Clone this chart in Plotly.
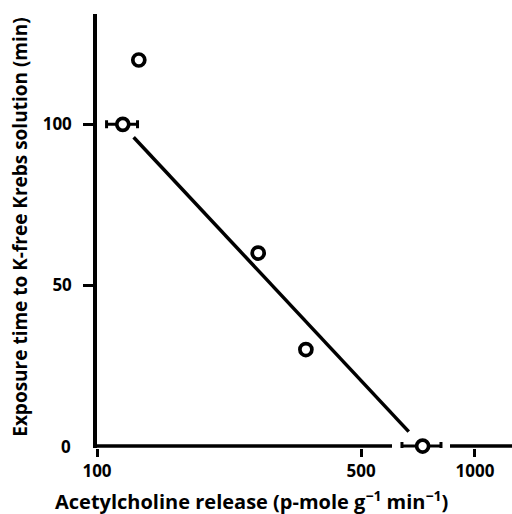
import plotly.graph_objects as go

# ---- data ----
ach_release = [129, 117, 267, 357, 727]          # p-mole g-1 min-1
exposure_time = [120, 100, 60, 30, 0]            # min
err_plus = [0, 11, 0, 0, 86]
err_minus = [0, 11, 0, 0, 86]

fit_x = [125, 668]
fit_y = [96, 4.5]

x_ticks = [100, 500, 1000]
x_ticklabels = ["100", "500", "1000"]
y_ticks = [50, 100]
y_ticklabels = ["50", "100"]

FONT = "Open Sans"
INK = "black"

W, H = 512, 514
L, T = 97, 14
Y0_PX = 446.5          # pixel row of y = 0
BOTTOM = Y0_PX + 2     # plot bottom slightly below y = 0
PLOT_W = W - L
PLOT_H = BOTTOM - T
Y_RANGE = [-0.6, 134.3]

fig = go.Figure()

# regression line
fig.add_trace(go.Scatter(
    x=fit_x, y=fit_y, mode="lines",
    line=dict(color=INK, width=3.5),
    cliponaxis=False, showlegend=False,
))

# data points
fig.add_trace(go.Scatter(
    x=ach_release, y=exposure_time, mode="markers",
    marker=dict(symbol="circle", size=12, color="white",
                line=dict(color=INK, width=3.7)),
    error_x=dict(type="data", symmetric=False, array=err_plus, arrayminus=err_minus,
                 color=INK, thickness=3, width=4),
    cliponaxis=False, showlegend=False,
))

# x axis line at y = 0, drawn in two pieces (broken around the last point)
axis_pieces = [(0, (392 - L) / PLOT_W), ((450 - L) / PLOT_W, 1)]
shapes = [
    dict(type="line", xref="paper", yref="y", x0=a, x1=b, y0=0, y1=0,
         line=dict(color=INK, width=3.5), layer="below")
    for a, b in axis_pieces
]

fig.update_layout(
    width=W, height=H,
    margin=dict(l=L, r=0, t=T, b=H - BOTTOM, pad=0),
    paper_bgcolor="white", plot_bgcolor="white",
    font=dict(family=FONT, size=17, color=INK, weight="bold"),
    shapes=shapes,
    xaxis=dict(
        type="log", range=[2, 3.098],
        showline=False,
        ticks="outside", ticklen=8, tickwidth=3, tickcolor=INK,
        tickvals=x_ticks, ticktext=x_ticklabels,
        tickfont=dict(family=FONT, size=17, color=INK, weight="bold"),
        showgrid=False, zeroline=False,
    ),
    yaxis=dict(
        range=Y_RANGE,
        showline=True, linecolor=INK, linewidth=3.5,
        ticks="outside", ticklen=10, tickwidth=3, tickcolor=INK,
        tickvals=y_ticks, ticktext=y_ticklabels, ticklabelstandoff=8,
        tickfont=dict(family=FONT, size=17, color=INK, weight="bold"),
        showgrid=False, zeroline=False,
    ),
    annotations=[
        dict(text="0", xref="paper", yref="y", x=0, y=0, xanchor="right", yanchor="middle",
             xshift=-24, showarrow=False,
             font=dict(family=FONT, size=17, color=INK, weight="bold")),
        dict(text="Acetylcholine release (p-mole g<sup>−1</sup> min<sup>−1</sup>)",
             xref="paper", yref="paper",
             x=(251 - L) / PLOT_W, y=-(501 - BOTTOM) / PLOT_H,
             xanchor="center", yanchor="middle", showarrow=False,
             font=dict(family=FONT, size=20, color=INK, weight="bold")),
        dict(text="Exposure time to K-free Krebs solution (min)",
             xref="paper", yref="paper",
             x=-(L - 20) / PLOT_W, y=(BOTTOM - 228) / PLOT_H, textangle=-90,
             xanchor="center", yanchor="middle", showarrow=False,
             font=dict(family=FONT, size=19, color=INK, weight="bold")),
    ],
)

fig.write_html("out.html", config={"displayModeBar": False},
               post_script="document.body.style.margin='0';document.body.style.overflow='hidden';")
